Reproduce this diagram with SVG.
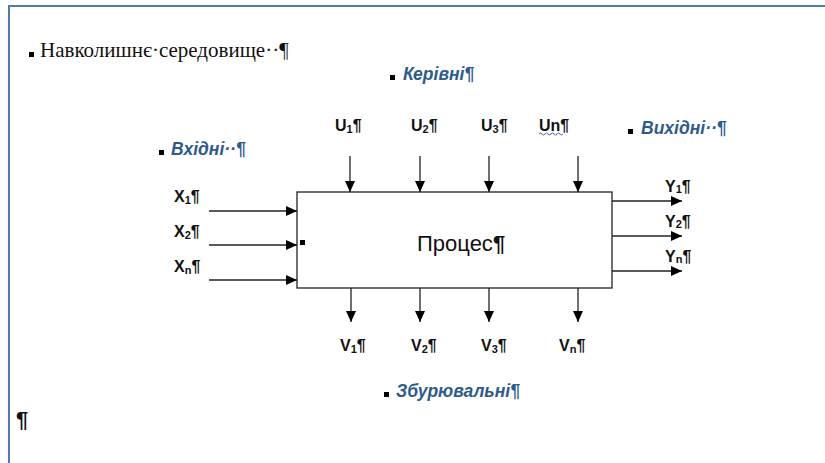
<svg xmlns="http://www.w3.org/2000/svg" width="825" height="463" viewBox="0 0 825 463">
  <style>
    .frame { fill: none; stroke: #4f7cae; stroke-width: 2; }
    .conn { fill: none; stroke: #222; stroke-width: 1.3; }
    .box { fill: #fff; stroke: #222; stroke-width: 1.3; }
    .lbl { font-family: "Liberation Sans", Arial, sans-serif; font-weight: bold; font-size: 16px; fill: #111; }
    .sub { font-size: 11px; }
    .cat { font-family: "Liberation Sans", Arial, sans-serif; font-weight: bold; font-style: italic; font-size: 17.5px; fill: #2e5b8c; }
    .env { font-family: "Liberation Serif", "Times New Roman", serif; font-size: 21px; fill: #111; }
    .proc { font-family: "Liberation Sans", Arial, sans-serif; font-size: 22px; fill: #111; }
    .big { font-size: 22px; }
    .mark { fill: #000; }
  </style>
  <defs>
    <marker id="arrow" markerUnits="userSpaceOnUse" markerWidth="11" markerHeight="10" refX="11" refY="5" orient="auto">
      <path d="M0,0 L11,5 L0,10 z" fill="#000"/>
    </marker>
  </defs>

  <!-- page frame -->
  <path class="frame" d="M9,463 L9,6 L825,6"/>

  <!-- environment caption -->
  <g id="environment">
    <rect class="mark" x="29" y="52" width="5" height="5"/>
    <text class="env" x="40" y="57">Навколишнє·середовище··¶</text>
  </g>

  <!-- category captions -->
  <g id="cat-control">
    <rect class="mark" x="390" y="75" width="5" height="5"/>
    <text class="cat" x="403" y="80">Керівні¶</text>
  </g>
  <g id="cat-inputs">
    <rect class="mark" x="159" y="150" width="5" height="5"/>
    <text class="cat" x="171" y="155">Вхідні··¶</text>
  </g>
  <g id="cat-outputs">
    <rect class="mark" x="628" y="129" width="5" height="5"/>
    <text class="cat" x="641" y="134">Вихідні··¶</text>
  </g>
  <g id="cat-disturb">
    <rect class="mark" x="384" y="392" width="5" height="5"/>
    <text class="cat" x="396" y="397">Збурювальні¶</text>
  </g>

  <!-- process block -->
  <g id="process">
    <rect class="box" x="297" y="192" width="315" height="96"/>
    <rect class="mark" x="300" y="240" width="5" height="5"/>
    <text class="proc" x="417" y="251">Процес<tspan font-weight="bold">¶</tspan></text>
  </g>

  <!-- control inputs -->
  <g id="u1"><text class="lbl" x="335" y="131">U<tspan class="sub" dy="2">1</tspan><tspan dy="-2">¶</tspan></text></g>
  <g id="u2"><text class="lbl" x="411" y="131">U<tspan class="sub" dy="2">2</tspan><tspan dy="-2">¶</tspan></text></g>
  <g id="u3"><text class="lbl" x="481" y="131">U<tspan class="sub" dy="2">3</tspan><tspan dy="-2">¶</tspan></text></g>
  <g id="un">
    <text class="lbl" x="539" y="131">Un¶</text>
    <path d="M539,134 q1.5,-2 3,0 t3,0 t3,0 t3,0 t3,0 t3,0 t3,0 t3,0" fill="none" stroke="#4a5bd8" stroke-width="1"/>
  </g>

  <!-- inputs -->
  <g id="x1"><text class="lbl" x="174" y="202">X<tspan class="sub" dy="2">1</tspan><tspan dy="-2">¶</tspan></text></g>
  <g id="x2"><text class="lbl" x="174" y="237">X<tspan class="sub" dy="2">2</tspan><tspan dy="-2">¶</tspan></text></g>
  <g id="xn"><text class="lbl" x="174" y="272">X<tspan class="sub" dy="2">n</tspan><tspan dy="-2">¶</tspan></text></g>

  <!-- outputs -->
  <g id="y1"><text class="lbl" x="665" y="192">Y<tspan class="sub" dy="1">1</tspan><tspan dy="-1">¶</tspan></text></g>
  <g id="y2"><text class="lbl" x="665" y="227">Y<tspan class="sub" dy="1">2</tspan><tspan dy="-1">¶</tspan></text></g>
  <g id="yn"><text class="lbl" x="665" y="262">Y<tspan class="sub" dy="1">n</tspan><tspan dy="-1">¶</tspan></text></g>

  <!-- disturbances -->
  <g id="v1"><text class="lbl" x="340" y="351">V<tspan class="sub" dy="2">1</tspan><tspan dy="-2">¶</tspan></text></g>
  <g id="v2"><text class="lbl" x="411" y="351">V<tspan class="sub" dy="2">2</tspan><tspan dy="-2">¶</tspan></text></g>
  <g id="v3"><text class="lbl" x="481" y="351">V<tspan class="sub" dy="2">3</tspan><tspan dy="-2">¶</tspan></text></g>
  <g id="vn"><text class="lbl" x="559" y="351">V<tspan class="sub" dy="2">n</tspan><tspan dy="-2">¶</tspan></text></g>

  <!-- empty paragraph mark -->
  <g id="para-end"><text class="lbl big" x="16" y="427">¶</text></g>

  <!-- connectors -->
  <g id="connectors" class="conn" marker-end="url(#arrow)">
    <line x1="350" y1="156" x2="350" y2="192"/>
    <line x1="420" y1="156" x2="420" y2="192"/>
    <line x1="489" y1="156" x2="489" y2="192"/>
    <line x1="578" y1="156" x2="578" y2="192"/>

    <line x1="209" y1="211" x2="297" y2="211"/>
    <line x1="209" y1="245" x2="297" y2="245"/>
    <line x1="209" y1="280" x2="297" y2="280"/>

    <line x1="612" y1="201" x2="682" y2="201"/>
    <line x1="612" y1="236" x2="682" y2="236"/>
    <line x1="612" y1="271" x2="682" y2="271"/>

    <line x1="351" y1="288" x2="351" y2="322"/>
    <line x1="420" y1="288" x2="420" y2="322"/>
    <line x1="489" y1="288" x2="489" y2="322"/>
    <line x1="578" y1="288" x2="578" y2="322"/>
  </g>
</svg>
